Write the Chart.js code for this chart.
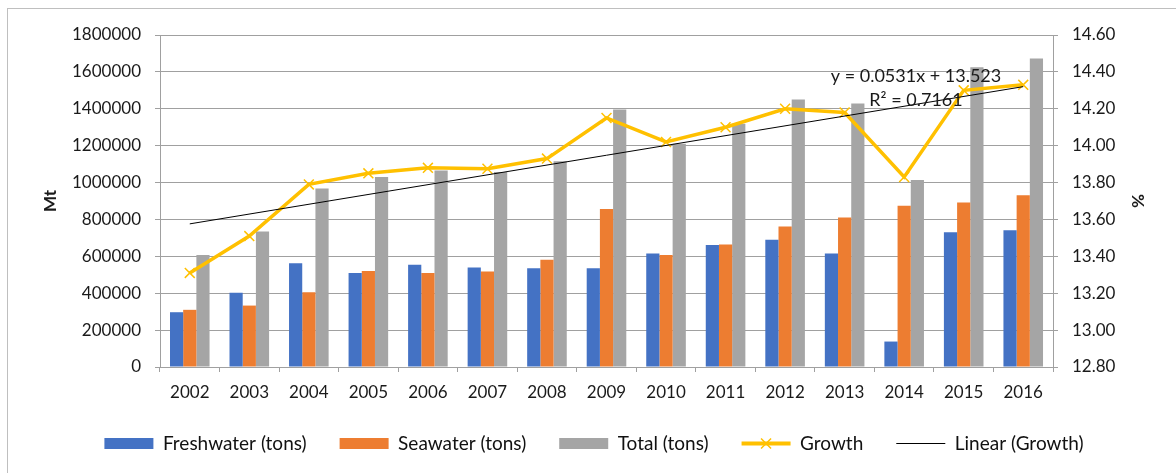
<!DOCTYPE html>
<html>
<head>
<meta charset="utf-8">
<script src="https://cdn.jsdelivr.net/npm/chart.js@4/dist/chart.umd.min.js"></script>
<style>
  html, body { margin: 0; padding: 0; background: #fff; }
  #wrap { width: 1176px; height: 473px; position: relative; }
</style>
</head>
<body>
<div id="wrap"><canvas id="result_chart" width="1176" height="473"></canvas></div>
<script>
// Aquaculture production by water type, with yearly growth (%)

const years = ['2002', '2003', '2004', '2005', '2006', '2007', '2008', '2009',
               '2010', '2011', '2012', '2013', '2014', '2015', '2016']
const freshwater = [297000, 402000, 562000, 510000, 555000, 540000, 536000, 536000,
                    616000, 661000, 690000, 616000, 138000, 730000, 741000]
const seawater = [310000, 333000, 405000, 520000, 510000, 518000, 582000, 857000,
                  607000, 664000, 762000, 811000, 874000, 892000, 931000]
const total = [607000, 735000, 968000, 1030000, 1066000, 1057000, 1115000, 1396000,
               1211000, 1319000, 1450000, 1429000, 1014000, 1625000, 1672000]
const growth = [13.31, 13.51, 13.79, 13.85, 13.88, 13.875, 13.93, 14.15,
                14.02, 14.10, 14.20, 14.18, 13.83, 14.30, 14.33]
// trend line end points (2002 and 2016)
const trend = [13.576, null, null, null, null, null, null, null,
               null, null, null, null, null, null, 14.32]
const trendLabel = ['y = 0.0531x + 13.523', 'R\u00b2 = 0.7161']

const FONT = 'Lato'
const gridColor = '#a0a0a0'
const legendStyles = ['rect', 'rect', 'rect', 'line', 'line']
const legendWidths = [0, 0, 0, 4, 1.2]
const SYMBOL_W = 49

const extras = {
    id: 'extras',
    beforeDraw(chart) {
        const ctx = chart.ctx
        ctx.save()
        ctx.strokeStyle = '#bfbfbf'
        ctx.lineWidth = 1
        ctx.strokeRect(7.5, 8.5, 1300, 600)
        ctx.restore()
    },
    afterDatasetsDraw(chart) {
        const ctx = chart.ctx
        const a = chart.chartArea
        ctx.save()
        ctx.fillStyle = '#1a1a1a'
        ctx.font = '18px ' + FONT
        ctx.textAlign = 'center'
        ctx.textBaseline = 'middle'
        ctx.fillText(trendLabel[0], a.right - 137, a.top + 41)
        ctx.fillText(trendLabel[1], a.right - 137, a.top + 65)
        ctx.restore()
    },
    afterDraw(chart) {
        // cross marker on the Growth legend symbol
        const box = chart.legend.legendHitBoxes[3]
        if (!box) return
        const cx = box.left + SYMBOL_W / 2
        const cy = box.top + box.height / 2
        const ctx = chart.ctx
        ctx.save()
        ctx.strokeStyle = '#ffc000'
        ctx.lineWidth = 1.5
        ctx.beginPath()
        ctx.moveTo(cx - 5, cy - 5); ctx.lineTo(cx + 5, cy + 5)
        ctx.moveTo(cx - 5, cy + 5); ctx.lineTo(cx + 5, cy - 5)
        ctx.stroke()
        ctx.restore()
    }
}

const frame = document.getElementById('result_chart')

const chart = new Chart(frame, {
    type: 'bar',
    data: {
        labels: years,
        datasets: [
            {label: 'Freshwater (tons)', data: freshwater, backgroundColor: '#4472c4',
             borderWidth: 0, yAxisID: 'y', order: 2},
            {label: 'Seawater (tons)', data: seawater, backgroundColor: '#ed7d31',
             borderWidth: 0, yAxisID: 'y', order: 2},
            {label: 'Total (tons)', data: total, backgroundColor: '#a5a5a5',
             borderWidth: 0, yAxisID: 'y', order: 2},
            {type: 'line', label: 'Growth', data: growth, yAxisID: 'y1', order: 1,
             borderColor: '#ffc000', backgroundColor: '#ffc000', borderWidth: 3.5,
             pointStyle: 'crossRot', pointRadius: 7, pointBorderWidth: 1.5,
             pointBorderColor: '#ffc000', tension: 0},
            {type: 'line', label: 'Linear (Growth)', data: trend, yAxisID: 'y1', order: 0,
             borderColor: '#000000', backgroundColor: '#000000', borderWidth: 1,
             pointRadius: 0, spanGaps: true}
        ]
    },
    options: {
        responsive: false,
        animation: false,
        maintainAspectRatio: false,
        layout: {padding: {left: 36, right: 24, top: 35, bottom: 10}},
        datasets: {bar: {categoryPercentage: 0.665, barPercentage: 1}},
        plugins: {
            tooltip: {enabled: false},
            legend: {
                position: 'bottom',
                labels: {
                    font: {family: FONT, size: 19},
                    color: '#111111',
                    usePointStyle: true,
                    pointStyleWidth: SYMBOL_W,
                    boxHeight: 11,
                    padding: 33,
                    generateLabels(chart) {
                        const items = Chart.defaults.plugins.legend.labels.generateLabels(chart)
                        items.sort((a, b) => a.datasetIndex - b.datasetIndex)
                        items.forEach(it => {
                            const i = it.datasetIndex
                            it.pointStyle = legendStyles[i]
                            it.lineWidth = legendWidths[i]
                            if (legendStyles[i] === 'line') {
                                it.strokeStyle = chart.data.datasets[i].borderColor
                            }
                        })
                        return items
                    }
                }
            }
        },
        scales: {
            x: {
                offset: true,
                grid: {offset: true, drawOnChartArea: false, color: gridColor, tickLength: 5},
                border: {color: gridColor},
                ticks: {font: {family: FONT, size: 17}, color: '#1a1a1a', padding: 10,
                        maxRotation: 0},
                afterFit(scale) { scale.height = 34 }
            },
            y: {
                position: 'left',
                min: 0, max: 1800000,
                ticks: {stepSize: 200000, font: {family: FONT, size: 17}, color: '#1a1a1a',
                        padding: 14, callback: v => String(v)},
                grid: {color: gridColor, tickLength: 5},
                border: {color: gridColor},
                title: {display: true, text: 'Mt', font: {family: FONT, size: 17, weight: 'bold'},
                        color: '#1a1a1a', padding: {top: 4, bottom: 4}},
                afterFit(scale) { scale.width = 124 }
            },
            y1: {
                position: 'right',
                min: 12.8, max: 14.6,
                ticks: {stepSize: 0.2, font: {family: FONT, size: 17}, color: '#1a1a1a',
                        padding: 14, callback: v => Number(v).toFixed(2)},
                grid: {drawOnChartArea: false, color: gridColor, tickLength: 5},
                border: {color: gridColor},
                title: {display: true, text: '%', font: {family: FONT, size: 17, weight: 'bold'},
                        color: '#1a1a1a', padding: {top: 4, bottom: 4}},
                afterFit(scale) { scale.width = 99 }
            }
        }
    },
    plugins: [extras]
})
</script>
</body>
</html>
